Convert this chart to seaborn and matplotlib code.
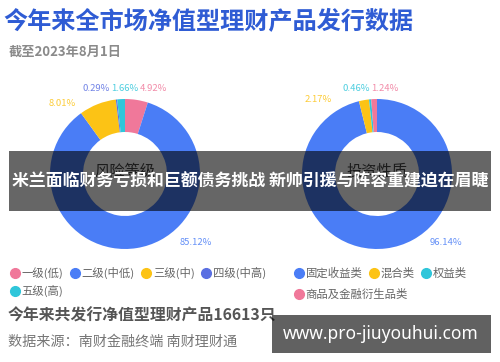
import matplotlib
matplotlib.use("Agg")
import matplotlib.pyplot as plt
from matplotlib.patches import Rectangle
from matplotlib.lines import Line2D
import seaborn as sns

# data
risk_labels = ["一级(低)", "二级(中低)", "三级(中)", "四级(中高)", "五级(高)"]
risk_values = [4.92, 85.12, 8.01, 0.29, 1.66]
risk_colors = ["#f0789a", "#4a7df6", "#fcc315", "#5a6fe2", "#2fc6da"]

type_labels = ["固定收益类", "混合类", "权益类", "商品及金融衍生品类"]
type_values = [96.14, 2.17, 0.46, 1.24]
type_colors = ["#4a7df6", "#fcc315", "#2fc6da", "#f0789a"]

# label anchor spots (layout only, in donut units)
risk_label_pos = [(0.38, 1.14), (0.95, -0.91), (-0.84, 0.94), (-0.38, 1.14), (0.0, 1.14)]
type_label_pos = [(0.92, -0.91), (-0.79, 1.0), (-0.28, 1.14), (0.10, 1.14)]

sns.set_theme(style="white")
plt.rcParams["font.family"] = ["Noto Sans CJK SC", "DejaVu Sans"]

fig = plt.figure(figsize=(5, 3.62), dpi=100)
fig.patch.set_facecolor("white")


def draw_donut(rect, values, colors, label_pos, center_text):
    ax = fig.add_axes(rect)
    ax.pie(values, colors=colors, startangle=90, counterclock=False, radius=1.0,
           wedgeprops=dict(width=0.44, edgecolor="none"))
    ax.set_xlim(-1.5, 1.5)
    ax.set_ylim(-1.5, 1.5)
    ax.set_aspect("equal")
    ax.axis("off")
    for v, c, (x, y) in zip(values, colors, label_pos):
        ax.text(x, y, f"{v:.2f}%", color=c, alpha=0.85, fontsize=6.8,
                ha="center", va="center")
    ax.text(0, 0.03, center_text, color="#444444", fontsize=11, ha="center", va="center")
    return ax


draw_donut([0.025, 0.2086, 0.45, 0.6215], risk_values, risk_colors, risk_label_pos, "风险等级")
draw_donut([0.529, 0.2086, 0.45, 0.6215], type_values, type_colors, type_label_pos, "投资性质")

# titles
fig.text(0.006, 0.939, "今年来全市场净值型理财产品发行数据", fontsize=17.4, fontweight="bold",
         color="#2f5cd4", ha="left", va="center")
fig.text(0.018, 0.856, "截至2023年8月1日", fontsize=9.5, fontweight="bold",
         color="#8a8a8a", ha="left", va="center")


def make_handles(labels, colors):
    return [Line2D([0], [0], marker="o", linestyle="none", markersize=7,
                   markerfacecolor=c, markeredgecolor=c, label=l)
            for l, c in zip(labels, colors)]


legend_kw = dict(frameon=False, fontsize=8.2, handletextpad=0.1, columnspacing=0.5,
                 borderpad=0, borderaxespad=0, handlelength=1.0, labelcolor="#666666")

# left legend: 4 items then 1
h = make_handles(risk_labels, risk_colors)
fig.legend(handles=h[:4], ncol=4, loc="center left", bbox_to_anchor=(0.018, 1 - 273 / 362), **legend_kw)
fig.legend(handles=h[4:], ncol=1, loc="center left", bbox_to_anchor=(0.018, 1 - 291 / 362), **legend_kw)

# right legend: 3 items then 1
h = make_handles(type_labels, type_colors)
fig.legend(handles=h[:3], ncol=3, loc="center left", bbox_to_anchor=(0.586, 1 - 273 / 362), **legend_kw)
fig.legend(handles=h[3:], ncol=1, loc="center left", bbox_to_anchor=(0.586, 1 - 294 / 362), **legend_kw)

# footer
fig.text(0.016, 1 - 316 / 362, "今年来共发行净值型理财产品16613只", fontsize=11.4, fontweight="bold",
         color="#555555", ha="left", va="center")
fig.text(0.016, 1 - 341 / 362, "数据来源：南财金融终端 南财理财通", fontsize=10.2,
         color="#777777", ha="left", va="center")

# overlay banner
fig.patches.append(Rectangle((9 / 500, 1 - 211 / 362), 482 / 500, 60 / 362,
                             transform=fig.transFigure, facecolor="black", alpha=0.6,
                             edgecolor="none", zorder=5))
fig.text(0.5, 1 - 182 / 362, "米兰面临财务亏损和巨额债务挑战 新帅引援与阵容重建迫在眉睫",
         fontsize=12.2, fontweight="bold", color="white", ha="center", va="center", zorder=6)

# watermark box
fig.patches.append(Rectangle((272 / 500, 1 - 353 / 362), 219 / 500, 38 / 362,
                             transform=fig.transFigure, facecolor="black", alpha=0.62,
                             edgecolor="none", zorder=5))
fig.text(381 / 500, 1 - 334 / 362, "www.pro-jiuyouhui.com", fontsize=12.5, fontweight="bold",
         color="white", ha="center", va="center", zorder=6, family=["Noto Sans", "DejaVu Sans"])

fig.savefig("out.png", dpi=100)
